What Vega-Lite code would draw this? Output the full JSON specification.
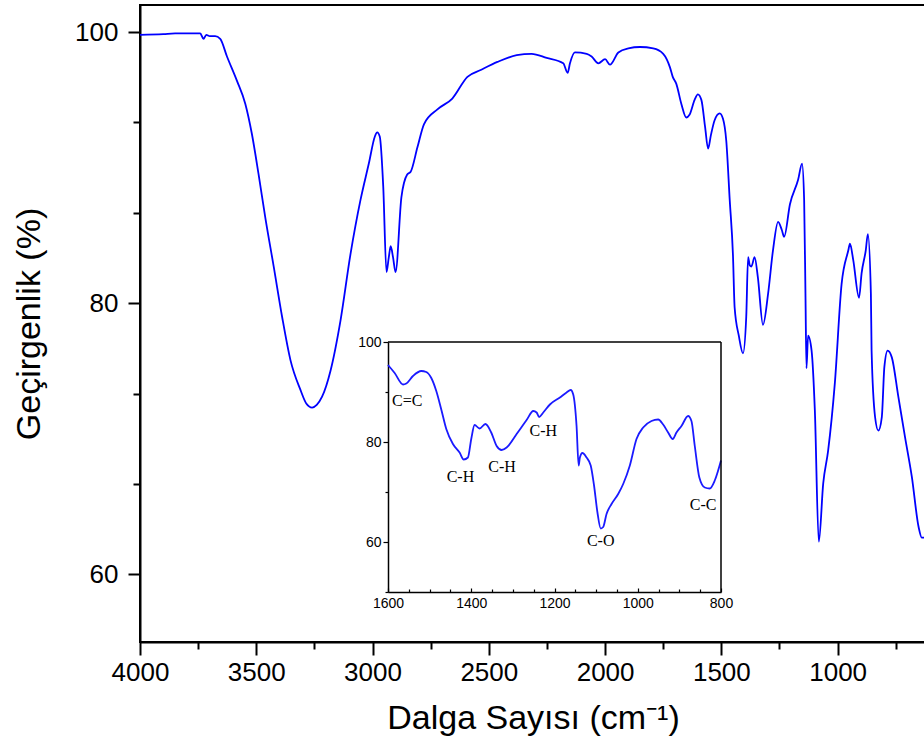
{
  "$schema": "https://vega.github.io/schema/vega-lite/v6.json",
  "width": 786,
  "height": 637,
  "autosize": {"type": "none"},
  "padding": {"left": 140, "top": 5, "right": 0, "bottom": 111},
  "background": "white",
  "config": {"view": {"stroke": "black", "strokeWidth": 2}, "font": "Liberation Sans"},
  "datasets": {
    "main": [
      {"wn": 4000, "t": 99.8}, {"wn": 3900, "t": 99.85}, {"wn": 3849, "t": 99.9}, {"wn": 3760, "t": 99.9},
      {"wn": 3741, "t": 99.9}, {"wn": 3727, "t": 99.5}, {"wn": 3715, "t": 99.8}, {"wn": 3700, "t": 99.7},
      {"wn": 3677, "t": 99.7}, {"wn": 3655, "t": 99.5}, {"wn": 3626, "t": 98.2}, {"wn": 3583, "t": 96.4},
      {"wn": 3547, "t": 94.7}, {"wn": 3519, "t": 92.5}, {"wn": 3490, "t": 89.5}, {"wn": 3461, "t": 86.3},
      {"wn": 3425, "t": 82.7}, {"wn": 3389, "t": 79.0}, {"wn": 3353, "t": 75.8}, {"wn": 3310, "t": 73.6},
      {"wn": 3285, "t": 72.6}, {"wn": 3260, "t": 72.3}, {"wn": 3240, "t": 72.5}, {"wn": 3217, "t": 73.1},
      {"wn": 3181, "t": 75.0}, {"wn": 3138, "t": 78.7}, {"wn": 3095, "t": 83.6}, {"wn": 3052, "t": 87.6},
      {"wn": 3016, "t": 90.3}, {"wn": 2990, "t": 92.3}, {"wn": 2980, "t": 92.6}, {"wn": 2969, "t": 92.3},
      {"wn": 2954, "t": 88.6}, {"wn": 2940, "t": 82.3}, {"wn": 2930, "t": 83.4}, {"wn": 2922, "t": 84.2},
      {"wn": 2912, "t": 83.4}, {"wn": 2901, "t": 82.3}, {"wn": 2876, "t": 87.8}, {"wn": 2851, "t": 89.5},
      {"wn": 2836, "t": 89.7}, {"wn": 2807, "t": 91.5}, {"wn": 2779, "t": 93.2}, {"wn": 2721, "t": 94.3},
      {"wn": 2657, "t": 95.1}, {"wn": 2592, "t": 96.7}, {"wn": 2535, "t": 97.2}, {"wn": 2463, "t": 97.8},
      {"wn": 2380, "t": 98.3}, {"wn": 2316, "t": 98.4}, {"wn": 2251, "t": 98.1}, {"wn": 2180, "t": 97.7},
      {"wn": 2161, "t": 97.0}, {"wn": 2151, "t": 97.7}, {"wn": 2130, "t": 98.5}, {"wn": 2079, "t": 98.4},
      {"wn": 2058, "t": 98.2}, {"wn": 2029, "t": 97.7}, {"wn": 2000, "t": 98.0}, {"wn": 1979, "t": 97.6},
      {"wn": 1943, "t": 98.5}, {"wn": 1900, "t": 98.8}, {"wn": 1850, "t": 98.9}, {"wn": 1793, "t": 98.8},
      {"wn": 1750, "t": 98.4}, {"wn": 1721, "t": 97.4}, {"wn": 1709, "t": 96.7}, {"wn": 1694, "t": 96.2},
      {"wn": 1672, "t": 94.7}, {"wn": 1651, "t": 93.7}, {"wn": 1637, "t": 93.9}, {"wn": 1615, "t": 95.0},
      {"wn": 1601, "t": 95.4}, {"wn": 1586, "t": 95.0}, {"wn": 1570, "t": 93.0}, {"wn": 1557, "t": 91.4},
      {"wn": 1545, "t": 92.4}, {"wn": 1529, "t": 93.5}, {"wn": 1507, "t": 94.0}, {"wn": 1493, "t": 93.6},
      {"wn": 1479, "t": 92.0}, {"wn": 1464, "t": 87.6}, {"wn": 1450, "t": 83.5}, {"wn": 1443, "t": 79.7},
      {"wn": 1425, "t": 77.6}, {"wn": 1407, "t": 76.3}, {"wn": 1393, "t": 79.0}, {"wn": 1385, "t": 83.4},
      {"wn": 1378, "t": 82.8}, {"wn": 1371, "t": 82.7}, {"wn": 1357, "t": 83.4}, {"wn": 1343, "t": 81.9},
      {"wn": 1321, "t": 78.4}, {"wn": 1299, "t": 80.7}, {"wn": 1278, "t": 83.9}, {"wn": 1256, "t": 86.0},
      {"wn": 1240, "t": 85.4}, {"wn": 1230, "t": 84.9}, {"wn": 1205, "t": 87.3}, {"wn": 1170, "t": 89.1},
      {"wn": 1153, "t": 90.3}, {"wn": 1144, "t": 87.6}, {"wn": 1138, "t": 80.2}, {"wn": 1134, "t": 75.2},
      {"wn": 1127, "t": 77.6}, {"wn": 1112, "t": 76.5}, {"wn": 1098, "t": 72.1}, {"wn": 1081, "t": 62.4},
      {"wn": 1062, "t": 66.7}, {"wn": 1041, "t": 69.1}, {"wn": 1012, "t": 74.1}, {"wn": 983, "t": 81.4},
      {"wn": 954, "t": 83.9}, {"wn": 947, "t": 84.4}, {"wn": 933, "t": 83.2}, {"wn": 908, "t": 80.4},
      {"wn": 897, "t": 82.2}, {"wn": 879, "t": 83.9}, {"wn": 870, "t": 85.1}, {"wn": 857, "t": 80.7},
      {"wn": 854, "t": 76.5}, {"wn": 839, "t": 71.6}, {"wn": 825, "t": 70.6}, {"wn": 810, "t": 71.6},
      {"wn": 799, "t": 75.3}, {"wn": 785, "t": 76.5}, {"wn": 767, "t": 76.0}, {"wn": 739, "t": 73.1},
      {"wn": 710, "t": 70.1}, {"wn": 681, "t": 67.2}, {"wn": 652, "t": 63.5}, {"wn": 638, "t": 62.7},
      {"wn": 620, "t": 62.7}
    ],
    "inset": [
      {"wn": 1600, "t": 95.4}, {"wn": 1584, "t": 93.8}, {"wn": 1564, "t": 91.5}, {"wn": 1556, "t": 91.7},
      {"wn": 1540, "t": 93.2}, {"wn": 1520, "t": 94.2}, {"wn": 1508, "t": 94.0}, {"wn": 1496, "t": 92.8},
      {"wn": 1484, "t": 90.2}, {"wn": 1472, "t": 86.5}, {"wn": 1460, "t": 82.6}, {"wn": 1444, "t": 79.6},
      {"wn": 1428, "t": 77.9}, {"wn": 1418, "t": 76.5}, {"wn": 1408, "t": 76.9}, {"wn": 1400, "t": 80.6},
      {"wn": 1392, "t": 83.4}, {"wn": 1380, "t": 82.7}, {"wn": 1366, "t": 83.6}, {"wn": 1352, "t": 81.9},
      {"wn": 1339, "t": 79.2}, {"wn": 1327, "t": 78.4}, {"wn": 1315, "t": 78.9}, {"wn": 1291, "t": 81.6},
      {"wn": 1267, "t": 84.4}, {"wn": 1251, "t": 86.2}, {"wn": 1243, "t": 85.9}, {"wn": 1237, "t": 85.0},
      {"wn": 1227, "t": 85.9}, {"wn": 1211, "t": 87.5}, {"wn": 1187, "t": 88.9}, {"wn": 1171, "t": 89.9},
      {"wn": 1161, "t": 90.4}, {"wn": 1155, "t": 89.5}, {"wn": 1147, "t": 83.2}, {"wn": 1142, "t": 75.3},
      {"wn": 1139, "t": 76.9}, {"wn": 1133, "t": 77.8}, {"wn": 1123, "t": 76.9}, {"wn": 1113, "t": 75.3},
      {"wn": 1105, "t": 71.3}, {"wn": 1097, "t": 66.0}, {"wn": 1089, "t": 62.7}, {"wn": 1083, "t": 63.0},
      {"wn": 1075, "t": 65.6}, {"wn": 1063, "t": 67.6}, {"wn": 1047, "t": 69.6}, {"wn": 1035, "t": 71.6},
      {"wn": 1019, "t": 75.3}, {"wn": 1003, "t": 80.6}, {"wn": 987, "t": 82.9}, {"wn": 967, "t": 84.2},
      {"wn": 951, "t": 84.5}, {"wn": 939, "t": 83.5}, {"wn": 927, "t": 81.9}, {"wn": 916, "t": 80.6},
      {"wn": 907, "t": 81.9}, {"wn": 895, "t": 83.2}, {"wn": 879, "t": 85.2}, {"wn": 871, "t": 84.2},
      {"wn": 863, "t": 79.2}, {"wn": 852, "t": 72.9}, {"wn": 839, "t": 70.9}, {"wn": 827, "t": 70.7},
      {"wn": 815, "t": 72.3}, {"wn": 800, "t": 76.3}
    ],
    "labels": [
      {"wn": 1554, "t": 88.2, "label": "C=C"},
      {"wn": 1426, "t": 73.1, "label": "C-H"},
      {"wn": 1326, "t": 75.0, "label": "C-H"},
      {"wn": 1227, "t": 82.2, "label": "C-H"},
      {"wn": 1089, "t": 60.3, "label": "C-O"},
      {"wn": 843, "t": 67.5, "label": "C-C"}
    ],
    "frameTop": [{"wn": 1600, "wn2": 800, "t": 100}],
    "frameRight": [{"wn": 800, "t": 50, "t2": 100}]
  },
  "layer": [
    {
      "data": {"name": "main"},
      "mark": {"type": "line", "color": "#0000ff", "strokeWidth": 1.8, "interpolate": "monotone"},
      "encoding": {
        "x": {
          "field": "wn", "type": "quantitative",
          "scale": {"domain": [4000, 620], "nice": false, "zero": false},
          "axis": {
            "orient": "bottom", "title": "Dalga Sayısı (cm⁻¹)",
            "values": [4000, 3750, 3500, 3250, 3000, 2750, 2500, 2250, 2000, 1750, 1500, 1250, 1000, 750],
            "labelExpr": "datum.value % 500 === 0 ? datum.value : ''",
            "grid": false, "domainColor": "black", "domainWidth": 2,
            "tickColor": "black", "tickWidth": 2,
            "tickSize": {"condition": {"test": "datum.value % 500 === 0", "value": 13}, "value": 7},
            "labelFontSize": 26, "labelColor": "black", "labelPadding": 4, "labelFlush": false, "labelOverlap": false,
            "titleFontSize": 34, "titleFontWeight": "normal", "titleColor": "black", "titlePadding": 16
          }
        },
        "y": {
          "field": "t", "type": "quantitative",
          "scale": {"domain": [55, 102], "nice": false, "zero": false},
          "axis": {
            "orient": "left", "title": "Geçirgenlik (%)",
            "values": [60, 66.6667, 73.3333, 80, 86.6667, 93.3333, 100],
            "labelExpr": "datum.value % 20 === 0 ? datum.value : ''",
            "grid": false, "domainColor": "black", "domainWidth": 2,
            "tickColor": "black", "tickWidth": 2,
            "tickSize": {"condition": {"test": "datum.value % 20 === 0", "value": 12}, "value": 7},
            "labelFontSize": 26, "labelColor": "black", "labelPadding": 10, "labelOverlap": false,
            "titleFontSize": 34, "titleFontWeight": "normal", "titleColor": "black", "titlePadding": 28
          }
        }
      }
    },
    {
      "layer": [
        {
          "data": {"name": "inset"},
          "mark": {"type": "line", "color": "#1a1aff", "strokeWidth": 1.8, "interpolate": "monotone"},
          "encoding": {
            "x": {
              "field": "wn", "type": "quantitative",
              "scale": {"domain": [1600, 800], "range": [248, 581], "nice": false, "zero": false},
              "axis": {
                "orient": "bottom", "offset": -50, "title": null,
                "values": [1600, 1550, 1500, 1450, 1400, 1350, 1300, 1250, 1200, 1150, 1100, 1050, 1000, 950, 900, 850, 800],
                "labelExpr": "datum.value % 200 === 0 ? datum.value : ''",
                "grid": false, "domainColor": "black", "domainWidth": 1.5,
                "tickColor": "black", "tickWidth": 1.2,
                "tickSize": {"condition": {"test": "datum.value % 200 === 0", "value": -4}, "value": -3},
                "labelFontSize": 14, "labelColor": "black", "labelPadding": 8, "labelFlush": false, "labelOverlap": false
              }
            },
            "y": {
              "field": "t", "type": "quantitative",
              "scale": {"domain": [50, 100], "range": [587, 337], "nice": false, "zero": false},
              "axis": {
                "orient": "left", "offset": -248, "title": null,
                "values": [50, 60, 70, 80, 90, 100],
                "labelExpr": "datum.value % 20 === 0 && datum.value > 50 ? datum.value : ''",
                "grid": false, "domainColor": "black", "domainWidth": 1.5,
                "tickColor": "black", "tickWidth": 1.2,
                "tickSize": {"condition": {"test": "datum.value % 20 === 0", "value": 5}, "value": 3},
                "labelFontSize": 14, "labelColor": "black", "labelPadding": 2, "labelOverlap": false
              }
            }
          }
        },
        {
          "data": {"name": "labels"},
          "mark": {"type": "text", "font": "Liberation Serif", "fontSize": 16, "color": "black"},
          "encoding": {
            "x": {"field": "wn", "type": "quantitative", "title": null},
            "y": {"field": "t", "type": "quantitative", "title": null},
            "text": {"field": "label"}
          }
        },
        {
          "data": {"name": "frameTop"},
          "mark": {"type": "rule", "color": "black", "strokeWidth": 1.5},
          "encoding": {
            "x": {"field": "wn", "type": "quantitative", "title": null},
            "x2": {"field": "wn2"},
            "y": {"field": "t", "type": "quantitative", "title": null}
          }
        },
        {
          "data": {"name": "frameRight"},
          "mark": {"type": "rule", "color": "black", "strokeWidth": 1.5},
          "encoding": {
            "x": {"field": "wn", "type": "quantitative", "title": null},
            "y": {"field": "t", "type": "quantitative", "title": null},
            "y2": {"field": "t2"}
          }
        }
      ]
    }
  ],
  "resolve": {
    "scale": {"x": "independent", "y": "independent"},
    "axis": {"x": "independent", "y": "independent"}
  }
}
